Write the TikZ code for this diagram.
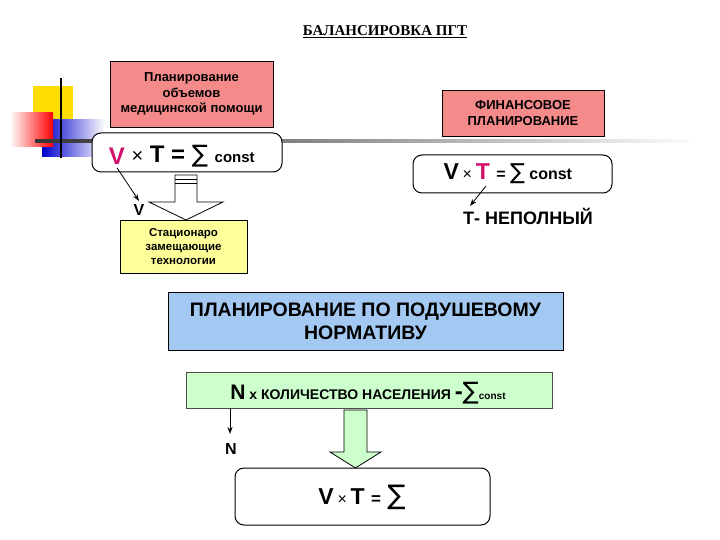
\documentclass[tikz,border=0pt]{standalone}
\usepackage{fontspec}
\setmainfont{Liberation Sans}
\newfontfamily\serifb{Liberation Serif}
\newfontfamily\symf{DejaVu Sans}
\usetikzlibrary{arrows.meta}
\definecolor{pinkb}{HTML}{F58A8A}
\definecolor{yelb}{HTML}{FFFF99}
\definecolor{blueb}{HTML}{A3C9F2}
\definecolor{greenb}{HTML}{CCFFCC}
\definecolor{magv}{HTML}{D0106A}
\newcommand{\fs}[1]{\fontsize{#1}{\dimexpr #1pt*6/5\relax}\selectfont}
\newcommand{\sumsym}{{\symf\mdseries ∑}}
\newcommand{\timessym}{{\mdseries ×}}
\begin{document}
\begin{tikzpicture}[x=1pt,y=-1pt,
  box/.style={draw,line width=0.8pt,align=center,inner sep=0pt},
  rbox/.style={draw,line width=1pt,rounded corners=9pt,inner sep=0pt},
  arr/.style={-{Stealth[length=7pt,width=5pt]},line width=0.8pt}]
\useasboundingbox (0,0) rectangle (720,540);
% decoration
\fill[yellow!80!orange] (33,86) rectangle (73,121);
\shade[left color=blue!80!black,right color=white] (42,120) rectangle (105,157);
\shade[left color=white,right color=red] (10,113) rectangle (53,147);
\shade[left color=black!80,right color=white] (35,140) rectangle (700,143);
\draw[line width=2.5pt] (61,78) -- (61,158);
% title
\node[font=\serifb\bfseries\fs{15}] (title) at (385,32) {\underline{БАЛАНСИРОВКА ПГТ}};
% left
\node[box,fill=pinkb,minimum width=163,minimum height=66,font=\bfseries\fs{13}] (plan) at (191.5,94) {Планирование\\объемов\\медицинской помощи};
\node[rbox,minimum width=190,minimum height=39,fill=white] (eq1) at (187,152.5) {};
\node[font=\bfseries\fs{24},text=magv] (v1) at (117,156) {V};
\node[anchor=west,font=\bfseries\fs{24}] (r1) at (128,156) {{\fs{20}\timessym} T = \sumsym{} {\fs{15}const}};
\node[font=\bfseries\fs{16}] (vl) at (139,210) {V};
\draw[arr] (v1.south) -- (vl.north);
% hollow arrow
\draw[line width=0.8pt,fill=white] (175,175) -- (197,175) -- (197,202) -- (223,202) -- (186,220) -- (149,202) -- (175,202) -- cycle;
\draw[line width=0.8pt] (175,179) -- (197,179) (175,183) -- (197,183);
\node[box,fill=yelb,minimum width=127,minimum height=53,font=\bfseries\fs{11.5}] (stac) at (183.5,246.5) {Стационаро\\замещающие\\технологии};
% right
\node[box,fill=pinkb,minimum width=162,minimum height=46,font=\bfseries\fs{13}] (fin) at (523,113) {ФИНАНСОВОЕ\\ПЛАНИРОВАНИЕ};
\node[rbox,minimum width=199,minimum height=38,fill=white] (eq2) at (512.5,174) {};
\node[anchor=west,font=\bfseries\fs{23}] (r2) at (440,174) {V\,{\fs{16}\timessym}\,\textcolor{magv}{T} {\fs{16}= {\fs{22}\sumsym} const}};
\coordinate (tpos) at (486,186);
\node[font=\bfseries\fs{18}] (tl) at (528,216) {Т- НЕПОЛНЫЙ};
\draw[arr] (tpos) -- (470,206);
% blue
\node[box,fill=blueb,minimum width=395,minimum height=58,font=\bfseries\fs{19.5}] (pod) at (365.5,321) {ПЛАНИРОВАНИЕ ПО ПОДУШЕВОМУ\\НОРМАТИВУ};
\node[box,fill=greenb,minimum width=366,minimum height=36,draw=black!70] (nbox) at (369,390) {};
\node[font=\bfseries\fs{14}] (ntext) at (368,393) {{\fs{21}N} x КОЛИЧЕСТВО НАСЕЛЕНИЯ {\fs{24}-}{\fs{24}\sumsym}{\fs{10}const}};
\node[font=\bfseries\fs{16}] (nl) at (231,449) {N};
\draw[arr] (230,408) -- (230,434);
\draw[line width=0.8pt,fill=greenb] (344,410) -- (367,410) -- (367,452) -- (381,452) -- (355.5,468) -- (330,452) -- (344,452) -- cycle;
\node[rbox,minimum width=255,minimum height=57] (fin2) at (362.5,496.5) {};
\node[font=\bfseries\fs{23}] (vt) at (362,497) {V\,{\fs{16}\timessym}\,T {\fs{17}=} {\fs{27}\sumsym}};
\end{tikzpicture}
\end{document}
